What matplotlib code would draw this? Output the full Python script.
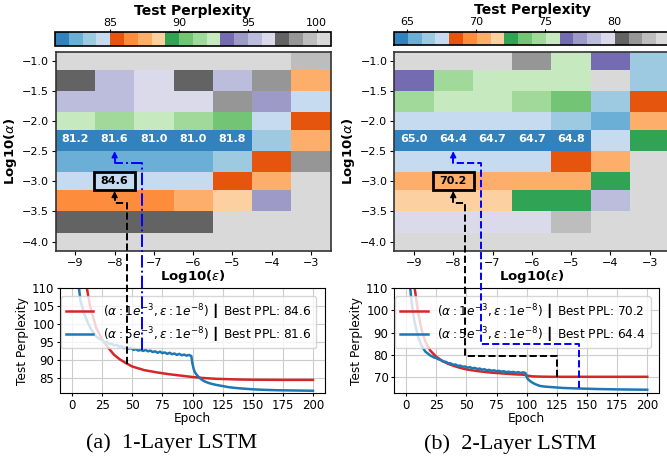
import numpy as np
import matplotlib
matplotlib.use("Agg")
import matplotlib.pyplot as plt
from matplotlib.lines import Line2D
from matplotlib.patches import Rectangle, FancyArrowPatch

# ---------------- grid-search data ----------------
eps_exp = [-9, -8, -7, -6, -5, -4, -3]                     # log10(epsilon)
alphas = [1e-1, 5e-2, 2e-2, 1e-2, 5e-3, 2e-3, 1e-3, 5e-4, 2e-4, 1e-4]

# test perplexity, rows = alpha (1e-1 ... 1e-4), cols = epsilon (1e-9 ... 1e-3)
ppl_1layer = [
    [100.5, 100.5, 100.5, 100.5, 100.5, 100.5, 99.5],
    [97.5, 95.5, 96.5, 97.5, 95.5, 98.5, 87.5],
    [95.5, 95.5, 96.5, 96.5, 98.5, 94.5, 84.5],
    [92.5, 91.5, 92.5, 91.5, 90.5, 84.5, 85.5],
    [81.2, 81.6, 81.0, 81.0, 81.8, 83.5, 87.5],
    [82.5, 82.5, 82.5, 82.5, 83.5, 85.5, 98.5],
    [84.5, 84.6, 84.5, 84.5, 85.5, 87.5, 100.5],
    [86.5, 86.5, 86.5, 87.5, 88.5, 94.5, 100.5],
    [97.5, 97.5, 97.5, 97.5, 100.5, 100.5, 100.5],
    [100.5, 100.5, 100.5, 100.5, 100.5, 100.5, 100.5],
]
ppl_2layer = [
    [83.5, 83.5, 83.5, 81.5, 75.5, 76.5, 66.5],
    [76.5, 74.5, 75.5, 75.5, 75.5, 83.5, 66.5],
    [74.5, 75.5, 75.5, 74.5, 73.5, 66.5, 68.5],
    [67.5, 67.5, 67.5, 67.5, 66.5, 65.5, 70.5],
    [65.0, 64.4, 64.7, 64.7, 64.8, 67.5, 72.5],
    [67.5, 67.5, 67.5, 67.5, 68.5, 70.5, 83.5],
    [70.5, 70.2, 70.5, 70.5, 70.5, 72.5, 83.5],
    [71.5, 71.5, 71.5, 72.5, 72.5, 78.5, 83.5],
    [79.5, 79.5, 79.5, 79.5, 82.5, 83.5, 83.5],
    [83.5, 83.5, 83.5, 83.5, 83.5, 83.5, 83.5],
]

# ---------------- training curves ----------------
# 1-layer, alpha=1e-3, eps=1e-8
ep_1l_a = [1, 5, 10, 12, 15, 20, 25, 30, 35, 40, 45, 50, 60, 70, 80, 90, 100,
           110, 120, 130, 140, 150, 175, 200]
ppl_1l_a = [160, 135, 115, 110.5, 105, 99, 95.8, 93.5, 91.5, 90.2, 89.2, 88.3,
            87.3, 86.7, 86.2, 85.8, 85.4, 85.1, 84.9, 84.8, 84.7, 84.65, 84.6, 84.6]
# 1-layer, alpha=5e-3, eps=1e-8
ep_1l_b = [1, 3, 5, 7, 10, 13, 16, 20, 23, 25, 27, 29, 31, 33, 35, 37, 39, 41, 43,
           45, 47, 49, 51, 53, 55, 57, 59, 61, 63, 65, 67, 69, 71, 73, 75, 77, 79,
           81, 83, 85, 87, 89, 91, 93, 95, 97, 99, 100, 101, 102, 104, 106, 108,
           110, 113, 116, 120, 125, 130, 135, 140, 150, 160, 170, 180, 190, 200]
ppl_1l_b = [180, 135, 112, 106.5, 103, 100.5, 98.5, 96.6, 95.9, 95.6, 94.9, 95.1,
            94.5, 94.6, 94.1, 94.3, 93.8, 93.9, 93.4, 93.6, 93.2, 93.4, 92.9, 93.1,
            92.7, 92.9, 92.6, 92.9, 92.5, 92.7, 92.3, 92.5, 92.1, 92.4, 92.0, 92.2,
            91.8, 92.1, 91.7, 91.9, 91.5, 91.8, 91.4, 91.6, 91.3, 91.5, 91.2, 89.0,
            87.6, 86.7, 85.8, 85.1, 84.6, 84.2, 83.8, 83.5, 83.2, 82.9, 82.6, 82.4,
            82.25, 82.0, 81.85, 81.75, 81.7, 81.65, 81.6]

# 2-layer, alpha=1e-3, eps=1e-8
ep_2l_a = [1, 4, 7, 10, 13, 16, 20, 25, 30, 35, 40, 45, 50, 55, 60, 65, 70, 75,
           80, 85, 90, 95, 99, 100, 102, 105, 110, 115, 120, 130, 150, 175, 200]
ppl_2l_a = [190, 135, 110.5, 99, 91, 86, 82, 79.2, 77.3, 76, 75, 74.2, 73.5, 73.1,
            72.7, 72.4, 72.1, 71.9, 71.7, 71.5, 71.3, 71.2, 71.0, 70.8, 70.6, 70.4,
            70.3, 70.25, 70.2, 70.2, 70.2, 70.2, 70.2]
# 2-layer, alpha=5e-3, eps=1e-8
ep_2l_b = [1, 2, 3, 5, 7, 10, 13, 16, 20, 23, 25, 27, 29, 31, 33, 35, 37, 39, 41,
           43, 45, 47, 49, 51, 53, 55, 57, 59, 61, 63, 65, 67, 69, 71, 73, 75, 77,
           79, 81, 83, 85, 87, 89, 91, 93, 95, 97, 99, 100, 101, 103, 105, 108,
           111, 115, 120, 125, 130, 140, 150, 160, 175, 200]
ppl_2l_b = [200, 140, 112, 102, 95, 88, 84, 81.5, 79.8, 78.9, 78.6, 78.0, 77.7,
            77.0, 76.9, 76.3, 76.2, 75.6, 75.7, 75.1, 75.2, 74.7, 74.8, 74.3, 74.5,
            74.0, 74.2, 73.7, 73.9, 73.4, 73.6, 73.1, 73.3, 72.9, 73.1, 72.7, 72.9,
            72.5, 72.7, 72.3, 72.5, 72.2, 72.4, 72.0, 72.3, 71.9, 72.2, 71.9, 70.2,
            69.2, 68.2, 67.5, 66.7, 66.1, 65.8, 65.6, 65.4, 65.2, 65.0, 64.85, 64.7,
            64.55, 64.4]

RED = "#d62728"
BLUE = "#1f77b4"

W, H = 667, 466
fig = plt.figure(figsize=(W / 100, H / 100), dpi=100)


def rect(x0, y0, x1, y1):
    return [x0 / W, 1 - y1 / H, (x1 - x0) / W, (y1 - y0) / H]


def fig_xy(ax, x, y):
    return fig.transFigure.inverted().transform(ax.transData.transform((x, y)))


def draw_heatmap(ax, cax, Z, vmin, vmax, cticks):
    Z = np.array(Z, dtype=float)
    ly = np.log10(alphas)
    mesh = ax.pcolormesh(eps_exp, ly[::-1], Z[::-1], cmap="tab20c",
                         vmin=vmin, vmax=vmax, shading="nearest")
    ax.set_xlim(-9.5, -2.5)
    ax.set_ylim(ly[-1] - (ly[-2] - ly[-1]) / 2, ly[0] + (ly[0] - ly[1]) / 2)
    ax.set_xticks(eps_exp)
    ax.set_yticks([-1.0, -1.5, -2.0, -2.5, -3.0, -3.5, -4.0])
    ax.set_yticklabels(["\u22121.0", "\u22121.5", "\u22122.0", "\u22122.5",
                        "\u22123.0", "\u22123.5", "\u22124.0"])
    ax.tick_params(labelsize=8, length=3, pad=2)
    ax.set_xlabel(r"Log10($\varepsilon$)", fontsize=9.5, fontweight="bold", labelpad=0)
    ax.set_ylabel(r"Log10($\alpha$)", fontsize=9.5, fontweight="bold", labelpad=2)
    for s in ax.spines.values():
        s.set_linewidth(1.2)
        s.set_color("#333333")

    # values of the best learning-rate row
    for j in range(5):
        ax.text(eps_exp[j], ly[4], f"{Z[4, j]:.1f}", ha="center", va="center",
                color="white", fontweight="bold", fontsize=8)

    # highlighted default setting (alpha=1e-3, eps=1e-8)
    val = Z[6, 1]
    ax.add_patch(Rectangle((eps_exp[1] - 0.525, ly[6] - 0.15), 1.05, 0.30,
                           facecolor=mesh.cmap(mesh.norm(val)), edgecolor="black",
                           linewidth=2, zorder=4))
    ax.text(eps_exp[1], ly[6], f"{val:.1f}", ha="center", va="center",
            fontweight="bold", fontsize=8, zorder=5)

    cb = fig.colorbar(mesh, cax=cax, orientation="horizontal")
    cb.set_ticks(cticks)
    cax.xaxis.set_ticks_position("top")
    cax.tick_params(labelsize=8, length=2.5, pad=0.5)
    cb.outline.set_linewidth(1.2)
    cax.set_title("Test Perplexity", fontsize=10, fontweight="bold", pad=0)
    return ly


def draw_curves(ax, ea, pa, eb, pb, best_a, best_b, ylim, yticks):
    la = (r"$(\alpha: 1e^{-3}, \varepsilon: 1e^{-8})$ " "\u2503"
          f" Best PPL: {best_a:.1f}")
    lb = (r"$(\alpha: 5e^{-3}, \varepsilon: 1e^{-8})$ " "\u2503"
          f" Best PPL: {best_b:.1f}")
    ax.plot(ea, pa, color=RED, lw=1.8, label=la)
    ax.plot(eb, pb, color=BLUE, lw=1.8, label=lb)
    ax.set_xlim(-10, 210)
    ax.set_ylim(*ylim)
    ax.set_xticks(range(0, 201, 25))
    ax.set_yticks(yticks)
    ax.tick_params(labelsize=8.5, length=2.5, pad=1.5)
    ax.grid(True, color="#cccccc", lw=0.8)
    ax.set_axisbelow(True)
    ax.set_xlabel("Epoch", fontsize=8.7, labelpad=0)
    ax.set_ylabel("Test Perplexity", fontsize=8.7, labelpad=2)
    ax.legend(loc="upper right", fontsize=8.7, handlelength=2.3,
              borderpad=0.4, labelspacing=0.35, framealpha=0.8,
              bbox_to_anchor=(0.99, 0.98))


def connector(ax_line, ax_heat, line_pts, y_corner, x_target, y_tip, color, ls):
    P = [fig_xy(ax_line, x, y) for x, y in line_pts]
    xv = P[-1][0]
    c1 = (xv, fig_xy(ax_heat, x_target, y_corner)[1])
    c2 = fig_xy(ax_heat, x_target, y_corner)
    tip = fig_xy(ax_heat, x_target, y_tip)
    end = (tip[0], tip[1] - 6 / H)
    xs = [p[0] for p in P] + [c1[0], c2[0], end[0]]
    ys = [p[1] for p in P] + [c1[1], c2[1], end[1]]
    fig.add_artist(Line2D(xs, ys, transform=fig.transFigure, color=color,
                          linestyle=ls, lw=1.4, zorder=6))
    fig.add_artist(FancyArrowPatch((tip[0], tip[1] - 8 / H), tuple(tip),
                                   transform=fig.transFigure, arrowstyle="-|>",
                                   mutation_scale=9, color=color, lw=1.0,
                                   shrinkA=0, shrinkB=0, zorder=7))


# ---------------- layout ----------------
axh1 = fig.add_axes(rect(55.7, 51.7, 330.7, 250.7))
axh2 = fig.add_axes(rect(394.3, 51.7, 669.3, 250.7))
cax1 = fig.add_axes(rect(55.2, 32, 330.5, 45.5))
cax2 = fig.add_axes(rect(394.0, 31.5, 670.0, 45.0))
axl1 = fig.add_axes(rect(60, 288, 325, 393.3))
axl2 = fig.add_axes(rect(394, 288, 659.3, 393.3))

ly = draw_heatmap(axh1, cax1, ppl_1layer, 81, 101, [85, 90, 95, 100])
draw_heatmap(axh2, cax2, ppl_2layer, 64.05, 84.05, [65, 70, 75, 80])

draw_curves(axl1, ep_1l_a, ppl_1l_a, ep_1l_b, ppl_1l_b,
            ppl_1layer[6][1], ppl_1layer[4][1], (80.9, 110), [85, 90, 95, 100, 105, 110])
draw_curves(axl2, ep_2l_a, ppl_2l_a, ep_2l_b, ppl_2l_b,
            ppl_2layer[6][1], ppl_2layer[4][1], (62.8, 110), [70, 80, 90, 100, 110])

# links from the curves to their grid cells
connector(axl1, axh1, [(46, np.interp(46, ep_1l_a, ppl_1l_a))],
          -3.36, -8, ly[6] - 0.16, "black", "--")
connector(axl1, axh1, [(58, np.interp(58, ep_1l_b, ppl_1l_b))],
          -2.70, -8, -2.5, "blue", "-.")
connector(axl2, axh2, [(125, np.interp(125, ep_2l_a, ppl_2l_a)), (125, 79.5), (49, 79.5)],
          -3.36, -8, ly[6] - 0.16, "black", "--")
connector(axl2, axh2, [(143, np.interp(143, ep_2l_b, ppl_2l_b)), (143, 84.8), (62.5, 84.8)],
          -2.70, -8, -2.5, "blue", "--")

# sub-figure captions
fig.text(171.7 / W, 1 - 443 / H, "(a)  1-Layer LSTM", family="Liberation Serif",
         fontsize=16, ha="center", va="center")
fig.text(510.6 / W, 1 - 444 / H, "(b)  2-Layer LSTM", family="Liberation Serif",
         fontsize=16, ha="center", va="center")

fig.savefig("out.png", dpi=100)
